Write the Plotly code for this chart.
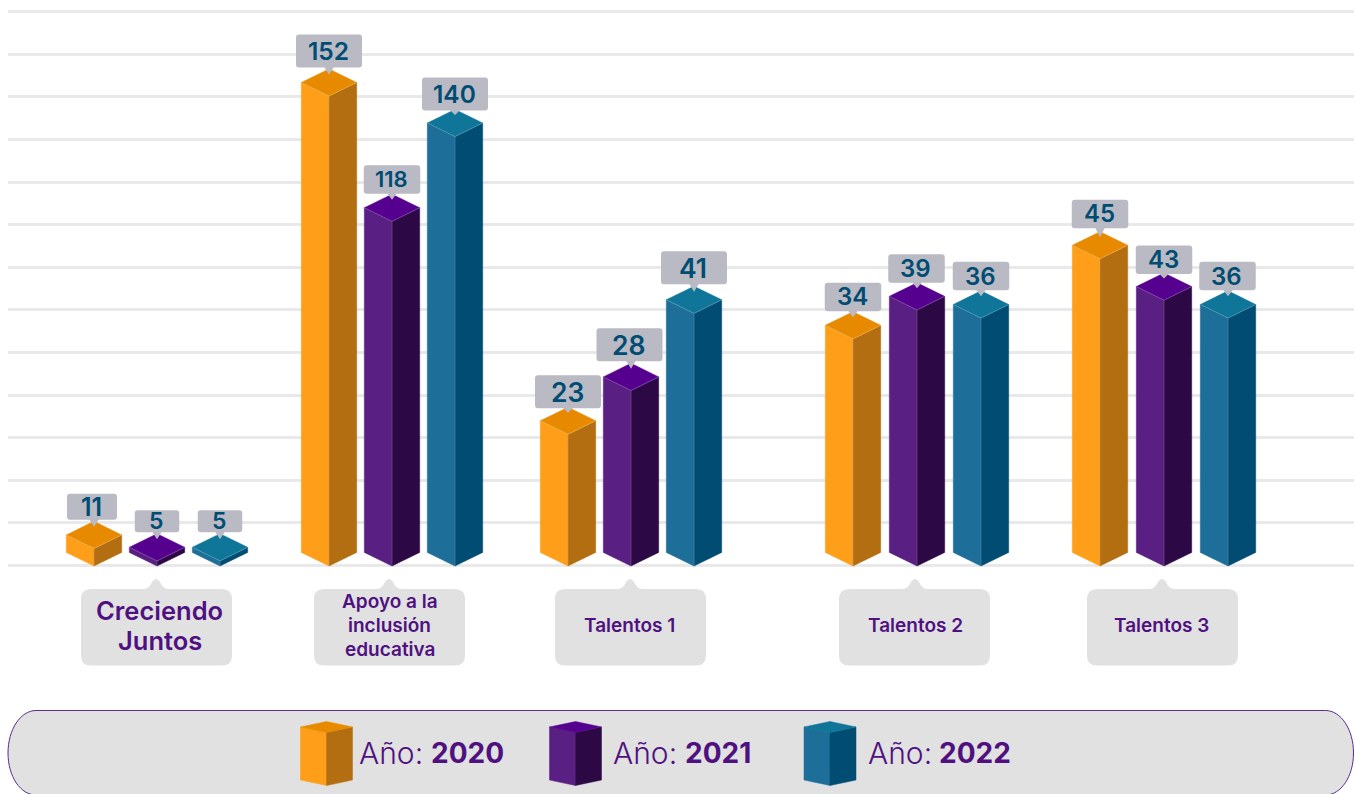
import plotly.graph_objects as go

# ---------- data ----------
categories = ["Creciendo<br>Juntos", "Apoyo a la<br>inclusión<br>educativa", "Talentos 1", "Talentos 2", "Talentos 3"]
years = ["2020", "2021", "2022"]
labels_2020 = [11, 152, 23, 34, 45]
labels_2021 = [5, 118, 28, 39, 43]
labels_2022 = [5, 140, 41, 36, 36]
# drawn bar heights as read on the gridlines (the picture is not to scale with its labels)
heights_2020 = [0.41, 11.03, 3.09, 5.33, 7.21]
heights_2021 = [0.12, 8.09, 4.12, 6.01, 6.24]
heights_2022 = [0.12, 10.08, 5.93, 5.82, 5.82]

# ---------- layout / style ----------
W, H = 1356, 794
GRID = 42.6            # px per axis unit
BASE_PX = 565.5
group_centers = [157, 392, 631, 917, 1164]
group_spacing = [63, 63, 63, 64, 64]
HALF_W = 27.7
DEPTH = 13.6
label_tiers = [[2, 4, 0, 1, 1], [3, 5, 0, 1, 1], [3, 4, 0, 1, 1]]
# tier: box w, box h, font size
tiers = {0: (66, 33, 26.5), 1: (56.5, 28.5, 24), 2: (50, 26, 25), 3: (44.5, 22, 23),
         4: (66, 33, 24.5), 5: (56.5, 28.5, 22)}
label_dx = [[-2, 0, 0, 0, 0], [0, 0, -1.5, -0.5, 0], [0, 0, 0, 0, -0.5]]
label_dy = [[-1, -1, 1.5, 0, -3], [-1, 0, -1.5, 0.5, 1.5], [-1, 1.5, -1.5, 0, 0]]
colors = {
    "left":  ["#FF9E18", "#5A1F82", "#1D6E99"],
    "right": ["#B36E11", "#2C0845", "#004C73"],
    "top":   ["#E88A00", "#55008E", "#0F7599"],
}
PURPLE = "#4F1180"
NAVY = "#004C73"
FONT = "Inter"
cat_label_style = [(25.5, 159.5, [610, 640]), (19, 389.5, [601, 625, 649]),
                   (19, 629.5, [625]), (19, 915, [625]), (19, 1161.5, [625])]
cat_boxes = [(81, 156), (314, 389), (555, 630), (839, 915), (1087, 1162)]

def py_to_unit(dpx):
    return dpx / GRID

fig = go.Figure()

def poly(xs, ys, color, xa="x", ya="y"):
    fig.add_trace(go.Scatter(x=xs, y=ys, mode="lines", fill="toself", fillcolor=color,
                             line=dict(color=color, width=0.5), hoverinfo="skip",
                             showlegend=False, xaxis=xa, yaxis=ya))

def edges(xs, ys, xa="x", ya="y"):
    fig.add_trace(go.Scatter(x=xs, y=ys, mode="lines", line=dict(color="rgba(255,255,255,0.3)", width=0.7),
                             hoverinfo="skip", showlegend=False, xaxis=xa, yaxis=ya))

# ---------- bars in main axes ----------
heights = [heights_2020, heights_2021, heights_2022]
labels = [labels_2020, labels_2021, labels_2022]
annotations, shapes = [], []
y0 = py_to_unit(-0.5)
d = py_to_unit(DEPTH)

for s in range(3):
    for g in range(len(categories)):
        cx = group_centers[g] + (s - 1) * group_spacing[g]
        h = heights[s][g]
        l, r = cx - HALF_W, cx + HALF_W
        poly([l, cx, cx, l, l], [y0 + d, y0, y0 + h, y0 + h + d, y0 + d], colors["left"][s])
        poly([cx, r, r, cx, cx], [y0, y0 + d, y0 + h + d, y0 + h, y0], colors["right"][s])
        poly([l, cx, r, cx, l], [y0 + h + d, y0 + h, y0 + h + d, y0 + h + 2 * d, y0 + h + d], colors["top"][s])
        edges([l, cx, r, None, cx, cx], [y0 + h + d, y0 + h, y0 + h + d, None, y0 + h, y0])

        # value callout, placed from the bar top
        apex_px = BASE_PX - (y0 + h + 2 * d) * GRID
        bw, bh, fs = tiers[label_tiers[s][g]]
        bx = cx + label_dx[s][g]
        bot = apex_px - 0.5 + label_dy[s][g]
        top = bot - bh
        lft, rgt = bx - bw / 2, bx + bw / 2
        rr = 3
        tip_y = apex_px + 5.5
        path = (f"M{lft+rr},{top} L{rgt-rr},{top} Q{rgt},{top} {rgt},{top+rr} L{rgt},{bot-rr} Q{rgt},{bot} {rgt-rr},{bot} "
                f"L{cx+4.5},{bot} L{cx},{tip_y} L{cx-4.5},{bot} L{lft+rr},{bot} Q{lft},{bot} {lft},{bot-rr} "
                f"L{lft},{top+rr} Q{lft},{top} {lft+rr},{top} Z")
        shapes.append(dict(type="path", path=path, xref="x2", yref="y2", fillcolor="#B9BAC3",
                           line=dict(width=0), layer="above"))
        annotations.append(dict(x=bx - 1, y=(top + bot) / 2, xref="x2", yref="y2", text=str(labels[s][g]), showarrow=False,
                                xanchor="center", yanchor="middle",
                                font=dict(family=FONT, size=fs, color=NAVY, weight=600)))

# ---------- category callouts ----------
BW = 151
BT, BB = 589, 665.5
for i, cat in enumerate(categories):
    lft, tip = cat_boxes[i]
    rgt = lft + BW
    rr = 10
    path = (f"M{lft+rr},{BT} L{tip-12},{BT} Q{tip-7},{BT} {tip-4},{BT-7} Q{tip},{BT-13} {tip+4},{BT-7} "
            f"Q{tip+7},{BT} {tip+12},{BT} L{rgt-rr},{BT} Q{rgt},{BT} {rgt},{BT+rr} L{rgt},{BB-rr} "
            f"Q{rgt},{BB} {rgt-rr},{BB} L{lft+rr},{BB} Q{lft},{BB} {lft},{BB-rr} L{lft},{BT+rr} Q{lft},{BT} {lft+rr},{BT} Z")
    shapes.append(dict(type="path", path=path, xref="x2", yref="y2", fillcolor="#E1E1E2",
                       line=dict(width=0), layer="below"))
    fs, tx, lines_y = cat_label_style[i]
    for line, ly in zip(cat.split("<br>"), lines_y):
        annotations.append(dict(x=tx, y=ly, xref="x2", yref="y2", text=line, showarrow=False,
                                xanchor="center", yanchor="middle",
                                font=dict(family=FONT, size=fs, color=PURPLE, weight=600)))

# ---------- legend pill ----------
PL, PR, PT, PB = 8, 1353.5, 710.5, 795
RX, RY = 28, 42.5
k = 0.5523
pill = (f"M{PL+RX},{PT} L{PR-RX},{PT} C{PR-RX+k*RX},{PT} {PR},{PT+RY-k*RY} {PR},{PT+RY} "
        f"C{PR},{PT+RY+k*RY} {PR-RX+k*RX},{PB} {PR-RX},{PB} L{PL+RX},{PB} "
        f"C{PL+RX-k*RX},{PB} {PL},{PT+RY+k*RY} {PL},{PT+RY} C{PL},{PT+RY-k*RY} {PL+RX-k*RX},{PT} {PL+RX},{PT} Z")
shapes.append(dict(type="path", path=pill, xref="x2", yref="y2", fillcolor="#E1E1E1",
                   line=dict(color="#5A2A8C", width=1), layer="below"))

icon_cx = [326.5, 575.5, 830]
ano_x = [357, 611, 866]
yr_x = [429, 683, 937]
IW, ITOP, IBOT, IDEPTH = 26, 727, 780, 5.5
for s, yr in enumerate(years):
    cx = icon_cx[s]
    l, r = cx - IW, cx + IW
    poly([l, cx, cx, l, l], [IBOT, IBOT + IDEPTH, ITOP + IDEPTH, ITOP, IBOT], colors["left"][s], "x2", "y2")
    poly([cx, r, r, cx, cx], [IBOT + IDEPTH, IBOT, ITOP, ITOP + IDEPTH, IBOT + IDEPTH], colors["right"][s], "x2", "y2")
    poly([l, cx, r, cx, l], [ITOP, ITOP + IDEPTH, ITOP, ITOP - IDEPTH, ITOP], colors["top"][s], "x2", "y2")
    annotations.append(dict(x=ano_x[s], y=752.5, xref="x2", yref="y2", text="Año:", showarrow=False,
                            xanchor="left", yanchor="middle",
                            font=dict(family=FONT, size=30, color=PURPLE, weight=300)))
    annotations.append(dict(x=yr_x[s], y=752.5, xref="x2", yref="y2", text=yr, showarrow=False,
                            xanchor="left", yanchor="middle",
                            font=dict(family=FONT, size=28, color=PURPLE, weight=700)))

fig.update_layout(
    width=W, height=H, autosize=False, margin=dict(l=0, r=0, t=0, b=0),
    paper_bgcolor="white", plot_bgcolor="rgba(0,0,0,0)", showlegend=False,
    xaxis=dict(domain=[8 / W, 1354 / W], range=[8, 1354], visible=False, fixedrange=True),
    yaxis=dict(domain=[1 - 570 / H, 1 - 4 / H],
               range=[(BASE_PX - 570) / GRID, (BASE_PX - 4) / GRID],
               tick0=0, dtick=1, showgrid=True, gridcolor="#E9E9E9", gridwidth=3,
               zeroline=False, showticklabels=False, ticks="", showline=False, fixedrange=True),
    xaxis2=dict(domain=[0, 1], range=[0, W], visible=False, anchor="y2", fixedrange=True),
    yaxis2=dict(domain=[0, 1], range=[H, 0], visible=False, anchor="x2", fixedrange=True),
    shapes=shapes, annotations=annotations,
)

fig.write_html("out.html", config={"displayModeBar": False},
               post_script="document.body.style.margin='0';document.body.style.overflow='hidden';")
